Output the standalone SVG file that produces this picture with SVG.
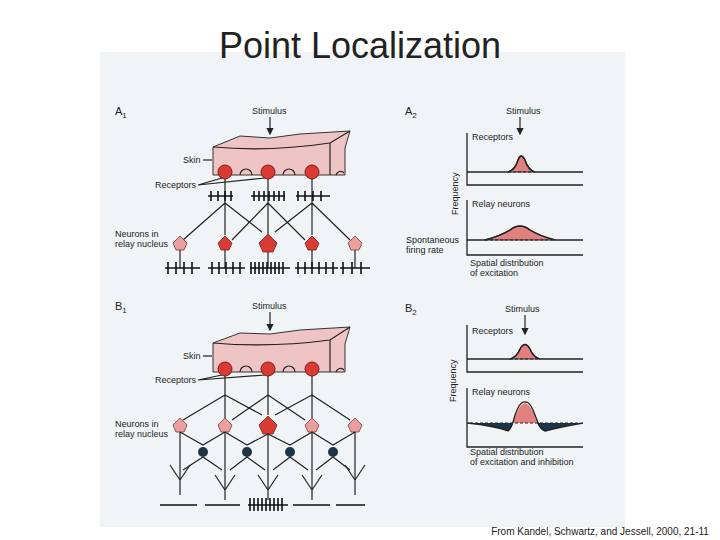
<svg xmlns="http://www.w3.org/2000/svg" width="720" height="540" viewBox="0 0 720 540">
<defs>
<style>
text{font-family:"Liberation Sans",Arial,sans-serif;fill:#222}
.l{font-size:9px}
.ax{stroke:#222;stroke-width:1.3;fill:none}
.w{stroke:#222;stroke-width:1.2;fill:none}
.sp{stroke:#111;stroke-width:1.6}
.skin{fill:#efc4c4;stroke:#333;stroke-width:1}
.rec{fill:#d93a32;stroke:#7a1d1d;stroke-width:1}
.nd{fill:#d93a32;stroke:#7a1d1d;stroke-width:.8}
.nl{fill:#eba0a0;stroke:#7a3a3a;stroke-width:.8}
.inh{fill:#1c3548}
.ex{fill:#e28080;stroke:#222;stroke-width:1.2}
</style>
<marker id="ar" markerWidth="6" markerHeight="6" refX="5" refY="3" orient="auto"><path d="M0,0L6,3L0,6z" fill="#222"/></marker>
</defs>
<rect width="720" height="540" fill="#fff"/>
<rect x="100" y="52" width="525" height="475" fill="#f0f4f7"/>
<text x="360" y="58" font-size="36" text-anchor="middle">Point Localization</text>
<text x="600" y="535" font-size="10" text-anchor="middle">From Kandel, Schwartz, and Jessell, 2000, 21-11</text>

<g id="A1">
<text x="115" y="115" font-size="11">A<tspan font-size="8" dy="3">1</tspan></text>
<text x="252" y="114" class="l">Stimulus</text>
<line x1="270" y1="117" x2="270" y2="134" class="w" marker-end="url(#ar)"/>
<path d="M213,147 L240,136 L270,138 L300,134 L350,131 L345,148 L345,175 L213,175 Z" class="skin"/>
<path d="M213,147 Q270,152 330,143 L350,131" class="w"/>
<path d="M330,143 L330,175" class="w"/>
<path d="M240,175 a6,6 0 0 1 12,0 M283,175 a6,6 0 0 1 12,0 M336,175 a5,6 0 0 1 8,-2" class="w"/>
<text x="183" y="163" class="l">Skin</text><line x1="203" y1="160" x2="212" y2="160" class="w"/>
<text x="155" y="188" class="l">Receptors</text>
<path d="M198,185 L222,178 M198,185 L265,178" class="w"/>
<circle cx="225" cy="172" r="7" class="rec"/><circle cx="268" cy="172" r="7" class="rec"/><circle cx="312" cy="172" r="7" class="rec"/>
<path d="M225,179V203 M268,179V203 M312,179V203" class="w"/>
<path d="M208,196H233 M251,196H285 M296,196H330" class="sp"/>
<path d="M211,191v10 M218,191v10 M225,191v10 M231,191v10 M254,191v10 M259,191v10 M264,191v10 M269,191v10 M274,191v10 M279,191v10 M284,191v10 M298,191v10 M305,191v10 M313,191v10 M321,191v10" class="sp"/>
<path d="M225,203 L183,240 M225,203 V235 M225,203 L262,232 M268,203 L232,240 M268,203 V235 M268,203 L305,240 M312,203 L275,232 M312,203 V235 M312,203 L350,240" class="w"/>
<path d="M173,243 l7,-7 l7,7 l-3,7 h-8 z" class="nl"/>
<path d="M218,243 l7,-7 l7,7 l-3,7 h-8 z" class="nd"/>
<path d="M259,243 l9,-9 l9,9 l-4,9 h-10 z" class="nd"/>
<path d="M305,243 l7,-7 l7,7 l-3,7 h-8 z" class="nd"/>
<path d="M348,243 l7,-7 l7,7 l-3,7 h-8 z" class="nl"/>
<path d="M180,250V268 M225,250V268 M268,252V268 M312,250V268 M355,250V268" class="w"/>
<path d="M165,268H200 M208,268H245 M250,268H290 M295,268H338 M340,268H370" class="sp"/>
<path d="M168,262v12 M176,262v12 M184,262v12 M192,262v12 M212,262v12 M219,262v12 M226,262v12 M233,262v12 M240,262v12 M251,262v12 M255,262v12 M259,262v12 M263,262v12 M267,262v12 M271,262v12 M275,262v12 M279,262v12 M283,262v12 M298,262v12 M305,262v12 M312,262v12 M319,262v12 M326,262v12 M333,262v12 M343,262v12 M352,262v12 M361,262v12" class="sp"/>
<text x="115" y="237" class="l">Neurons in</text><text x="115" y="247" class="l">relay nucleus</text>
</g>

<g id="B1">
<text x="115" y="310" font-size="11">B<tspan font-size="8" dy="3">1</tspan></text>
<text x="252" y="309" class="l">Stimulus</text>
<line x1="270" y1="312" x2="270" y2="330" class="w" marker-end="url(#ar)"/>
<path d="M213,343 L240,333 L270,334 L300,330 L350,327 L345,344 L345,372 L213,372 Z" class="skin"/>
<path d="M213,343 Q270,348 330,340 L350,327" class="w"/>
<path d="M330,340 L330,372" class="w"/>
<path d="M240,372 a6,6 0 0 1 12,0 M283,372 a6,6 0 0 1 12,0 M336,372 a5,6 0 0 1 8,-2" class="w"/>
<text x="183" y="359" class="l">Skin</text><line x1="203" y1="356" x2="212" y2="356" class="w"/>
<text x="155" y="383" class="l">Receptors</text>
<path d="M198,380 L222,375 M198,380 L265,375" class="w"/>
<circle cx="225" cy="369" r="7" class="rec"/><circle cx="268" cy="369" r="7" class="rec"/><circle cx="312" cy="369" r="7" class="rec"/>
<path d="M225,376V395 M268,376V395 M312,376V395" class="w"/>
<path d="M225,395 L183,420 M225,395 V418 M225,395 L262,415 M268,395 L232,420 M268,395 V415 M268,395 L305,420 M312,395 L275,415 M312,395 V418 M312,395 L350,420" class="w"/>
<path d="M173,425 l7,-7 l7,7 l-3,7 h-8 z" class="nl"/>
<path d="M218,425 l7,-7 l7,7 l-3,7 h-8 z" class="nl"/>
<path d="M259,425 l9,-9 l9,9 l-4,9 h-10 z" class="nd"/>
<path d="M305,425 l7,-7 l7,7 l-3,7 h-8 z" class="nl"/>
<path d="M348,425 l7,-7 l7,7 l-3,7 h-8 z" class="nl"/>
<path d="M180,432 L203,445 L225,432 M225,432 L247,445 L268,434 M268,434 L290,445 L312,432 M312,432 L333,445 L355,432" class="w"/>
<circle cx="203" cy="452" r="5" class="inh"/><circle cx="247" cy="452" r="5" class="inh"/><circle cx="290" cy="452" r="5" class="inh"/><circle cx="333" cy="452" r="5" class="inh"/>
<path d="M203,457 L183,470 M203,457 L222,470 M247,457 L230,470 M247,457 L265,470 M290,457 L273,470 M290,457 L308,470 M333,457 L316,470 M333,457 L350,470" class="w"/>
<path d="M180,432V480 M225,432V490 M268,434V490 M312,432V490 M355,432V480" class="w"/>
<path d="M170,465 L180,480 L190,465 M215,475 L225,490 L235,475 M258,475 L268,490 L278,475 M302,475 L312,490 L322,475 M345,465 L355,480 L365,465 M180,480V495 M225,490V500 M268,490V500 M312,490V500 M355,480V495" class="w"/>
<path d="M160,505H197 M205,505H240 M248,505H288 M293,505H330 M336,505H365" class="sp"/>
<path d="M250,498v13 M254,498v13 M258,498v13 M262,498v13 M266,498v13 M270,498v13 M274,498v13 M278,498v13 M282,498v13" class="sp"/>
<text x="115" y="427" class="l">Neurons in</text><text x="115" y="437" class="l">relay nucleus</text>
</g>

<g id="A2">
<text x="405" y="115" font-size="11">A<tspan font-size="8" dy="3">2</tspan></text>
<text x="506" y="114" class="l">Stimulus</text>
<line x1="520" y1="117" x2="520" y2="134" class="w" marker-end="url(#ar)"/>
<text x="472" y="140" class="l">Receptors</text>
<path d="M467,133V185H583" class="ax"/>
<path d="M508,172 Q515,170 518,160 Q521,152 525,160 Q528,170 535,172 Z" class="ex" stroke="none"/>
<path d="M467,172H508 Q515,170 518,160 Q521,152 525,160 Q528,170 535,172 H583" class="ax"/>
<line x1="508" y1="172" x2="535" y2="172" stroke="#222" stroke-dasharray="3,2"/>
<text transform="translate(458,215) rotate(-90)" class="l">Frequency</text>
<text x="472" y="207" class="l">Relay neurons</text>
<path d="M467,200V255H583" class="ax"/>
<path d="M485,240 Q500,236 510,230 Q520,222 530,230 Q540,236 555,240 Z" class="ex" stroke="none"/>
<path d="M467,240H485 Q500,236 510,230 Q520,222 530,230 Q540,236 555,240 H583" class="ax"/>
<line x1="485" y1="240" x2="555" y2="240" stroke="#222" stroke-dasharray="3,2"/>
<text x="406" y="243" class="l">Spontaneous</text><text x="406" y="253" class="l">firing rate</text>
<text x="470" y="266" class="l">Spatial distribution</text><text x="470" y="276" class="l">of excitation</text>
</g>

<g id="B2">
<text x="405" y="312" font-size="11">B<tspan font-size="8" dy="3">2</tspan></text>
<text x="505" y="312" class="l">Stimulus</text>
<line x1="525" y1="315" x2="525" y2="334" class="w" marker-end="url(#ar)"/>
<text x="472" y="334" class="l">Receptors</text>
<path d="M467,325V372H583" class="ax"/>
<path d="M510,359 Q517,357 520,349 Q525,340 530,349 Q533,357 540,359 Z" class="ex" stroke="none"/>
<path d="M467,359H510 Q517,357 520,349 Q525,340 530,349 Q533,357 540,359 H583" class="ax"/>
<line x1="510" y1="359" x2="540" y2="359" stroke="#222" stroke-dasharray="3,2"/>
<text transform="translate(456,402) rotate(-90)" class="l">Frequency</text>
<text x="472" y="395" class="l">Relay neurons</text>
<path d="M467,388V447H583" class="ax"/>
<path d="M470,423 Q495,426 508,431 Q512,428 513,423 Z M537,423 Q540,430 545,431 Q560,427 580,423 Z" fill="#1c3548"/>
<path d="M513,423 Q518,405 525,403 Q532,405 537,423 Z" fill="#e28080"/>
<path d="M467,423 Q495,426 508,431 Q512,428 515,415 Q520,401 525,402 Q530,401 535,415 Q540,430 545,431 Q560,427 583,423" class="ax"/>
<line x1="470" y1="423" x2="580" y2="423" stroke="#222" stroke-dasharray="3,2"/>
<text x="470" y="455" class="l">Spatial distribution</text><text x="470" y="465" class="l">of excitation and inhibition</text>
</g>
</svg>
